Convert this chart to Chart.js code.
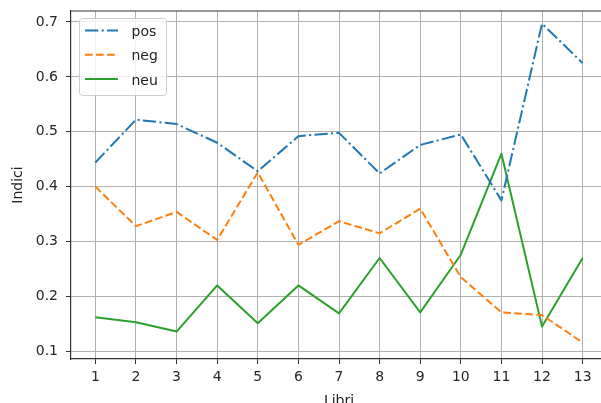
<!DOCTYPE html>
<html>
<head>
<meta charset="utf-8">
<script src="https://cdn.jsdelivr.net/npm/chart.js@4"></script>
<style>
    html, body { margin: 0; padding: 0; overflow: hidden; background: #fff; }
    canvas { display: block; }
</style>
</head>
<body>
<canvas id="chart" width="608" height="410"></canvas>
<script>
// Data
const libri = [1, 2, 3, 4, 5, 6, 7, 8, 9, 10, 11, 12, 13];
const pos = [0.444, 0.522, 0.514, 0.480, 0.428, 0.492, 0.498, 0.424, 0.476, 0.495, 0.375, 0.697, 0.625];
const neg = [0.400, 0.328, 0.354, 0.303, 0.426, 0.294, 0.337, 0.315, 0.360, 0.235, 0.171, 0.166, 0.116];
const neu = [0.162, 0.153, 0.136, 0.220, 0.151, 0.220, 0.169, 0.270, 0.171, 0.276, 0.460, 0.145, 0.270];
const yTicks = [0.1, 0.2, 0.3, 0.4, 0.5, 0.6, 0.7];

const canvas = document.getElementById("chart");
const H = canvas.height;

Chart.defaults.font.family = "'DejaVu Sans', sans-serif";
Chart.defaults.font.size = 14;
Chart.defaults.color = "#262626";

function points(values) {
    return libri.map((x, i) => ({ x: x, y: values[i] }));
}

// Legend box drawn inside the plot, top left
const innerLegend = {
    id: "innerLegend",
    afterDraw(chart) {
        const ctx = chart.ctx;
        ctx.save();
        ctx.beginPath();
        ctx.roundRect(79.5, 18.5, 87, 77, 3);
        ctx.fillStyle = "rgba(255,255,255,0.8)";
        ctx.fill();
        ctx.strokeStyle = "#cccccc";
        ctx.lineWidth = 1;
        ctx.stroke();

        const rows = [30.5, 54.8, 79.1];
        chart.data.datasets.forEach((ds, i) => {
            const y = rows[i];
            ctx.beginPath();
            ctx.setLineDash(ds.borderDash || []);
            ctx.strokeStyle = ds.borderColor;
            ctx.lineWidth = ds.borderWidth;
            ctx.moveTo(85, y);
            ctx.lineTo(118, y);
            ctx.stroke();
            ctx.setLineDash([]);
            ctx.fillStyle = "#222";
            ctx.font = "14px 'DejaVu Sans'";
            ctx.textBaseline = "alphabetic";
            ctx.fillText(ds.label, 131.5, y + 5.5);
        });
        ctx.restore();
    }
};

// Top spine (matplotlib frame)
const topSpine = {
    id: "topSpine",
    afterDraw(chart) {
        const { ctx, chartArea } = chart;
        ctx.save();
        ctx.strokeStyle = "#333";
        ctx.lineWidth = 1.2;
        ctx.beginPath();
        ctx.moveTo(chartArea.left, chartArea.top);
        ctx.lineTo(chartArea.right, chartArea.top);
        ctx.stroke();
        ctx.restore();
    }
};

const chart = new Chart(canvas.getContext("2d"), {
    type: "line",
    data: {
        datasets: [
            {
                label: "pos",
                data: points(pos),
                borderColor: "#1f77b4",
                borderWidth: 2,
                borderDash: [13.3, 3.3, 2.1, 3.3]
            },
            {
                label: "neg",
                data: points(neg),
                borderColor: "#ff7f0e",
                borderWidth: 2,
                borderDash: [7.7, 3.3]
            },
            {
                label: "neu",
                data: points(neu),
                borderColor: "#2ca02c",
                borderWidth: 2
            }
        ]
    },
    options: {
        responsive: false,
        animation: false,
        devicePixelRatio: 1,
        layout: { padding: { top: 11, right: 1, left: 0, bottom: 0 } },
        elements: {
            point: { radius: 0 },
            line: { tension: 0, fill: false, borderJoinStyle: "round" }
        },
        plugins: {
            legend: { display: false },
            tooltip: { enabled: false }
        },
        scales: {
            x: {
                type: "linear",
                min: 0.4,
                max: 13.6,
                afterBuildTicks: (scale) => { scale.ticks = libri.map(v => ({ value: v })); },
                afterFit: (scale) => {
                    scale.height = H - 359;
                    scale.paddingLeft = 0;
                    scale.paddingRight = 0;
                },
                ticks: {
                    autoSkip: false,
                    maxRotation: 0,
                    padding: 5,
                    callback: (v) => String(v)
                },
                grid: { color: "#b0b0b0", lineWidth: 1, tickLength: 5, tickColor: "#333" },
                border: { color: "#333", width: 1.2 },
                title: { display: true, text: "Libri", color: "#222", padding: { top: 0, bottom: 0.5 } }
            },
            y: {
                min: 0.086,
                max: 0.72,
                afterBuildTicks: (scale) => { scale.ticks = yTicks.map(v => ({ value: v })); },
                afterFit: (scale) => {
                    scale.width = 71;
                    scale.paddingTop = 0;
                    scale.paddingBottom = 0;
                },
                ticks: {
                    padding: 8,
                    callback: (v) => v.toFixed(1)
                },
                grid: { color: "#b0b0b0", lineWidth: 1, tickLength: 5, tickColor: "#333" },
                border: { color: "#333", width: 1.2 },
                title: { display: true, text: "Indici", color: "#222", padding: { top: 9.6, bottom: 0 } }
            }
        }
    },
    plugins: [innerLegend, topSpine]
});
</script>
</body>
</html>
